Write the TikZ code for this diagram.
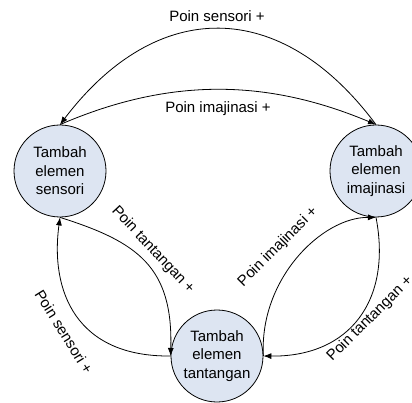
\documentclass[tikz,border=0pt]{standalone}
\usepackage{fontspec}
\setmainfont{Liberation Sans}
\usetikzlibrary{arrows.meta}
\definecolor{statefill}{RGB}{221,229,242}
\begin{document}
\begin{tikzpicture}[x=1pt,y=-1pt,
  state/.style={circle,draw,line width=0.8pt,fill=statefill,minimum size=92pt,
    inner sep=0pt,align=center,font=\fontsize{15pt}{18.5pt}\selectfont},
  flow/.style={line width=0.8pt,-{Latex[length=8pt,width=6pt]}},
  lbl/.style={font=\fontsize{15pt}{18pt}\selectfont,inner sep=0pt}]
\useasboundingbox (0,0) rectangle (412,403);

% the three states
\node[state] (S) at (60,171) {Tambah\\elemen\\sensori};
\node[state] (I) at (376,171) {Tambah\\elemen\\imajinasi};
\node[state] (T) at (217,356) {Tambah\\elemen\\tantangan};

% upper pair of arcs
\draw[flow] (I.north) .. controls (281,-3) and (157,-3) .. (S.north);
\draw[flow] (S.north) .. controls (168,78) and (265,78) .. (I.north);
\node[lbl] (l1) at (217,16) {Poin sensori +};
\node[lbl] (l2) at (218,109) {Poin imajinasi +};

% left loop
\draw[flow] (S.south) .. controls (138,242) and (173,267) .. (T.west);
\draw[flow] (T.west) .. controls (76,357) and (50,291) .. (S.south);
\node[lbl,rotate=-47] (l3) at (153,250) {Poin tantangan +};
\node[lbl,rotate=-58] (l4) at (64,332) {Poin sensori +};

% right loop
\draw[flow] (T.east) .. controls (259,279) and (322,217) .. (I.south);
\draw[flow] (I.south) .. controls (392,300) and (350,357) .. (T.east);
\node[lbl,rotate=45] (l5) at (278,247) {Poin imajinasi +};
\node[lbl,rotate=45] (l6) at (370,319) {Poin tantangan +};
\end{tikzpicture}
\end{document}
